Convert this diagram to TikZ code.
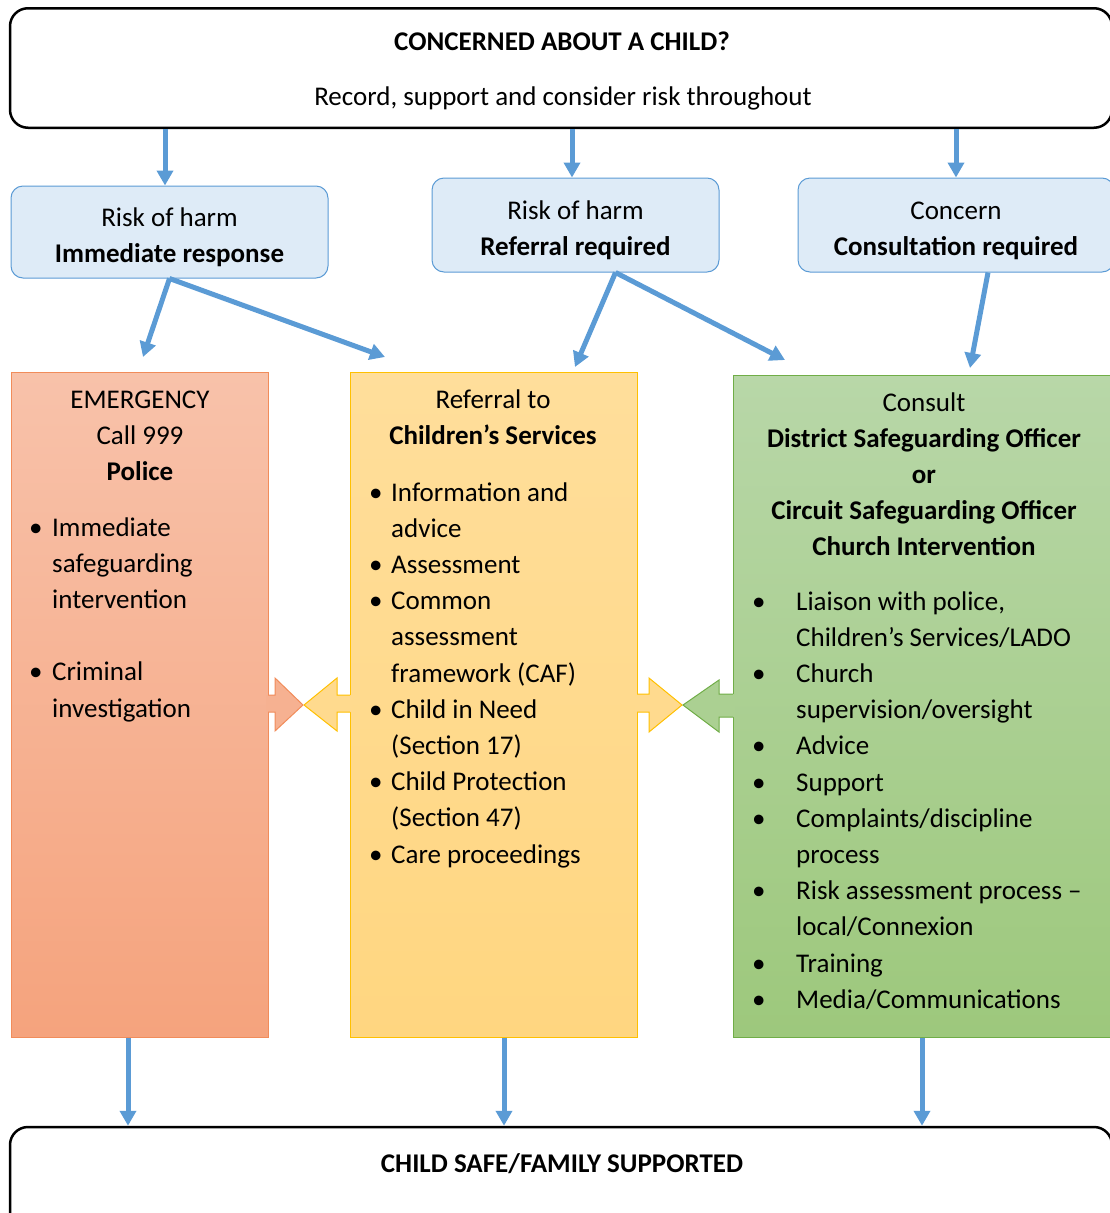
\documentclass[tikz,border=0pt]{standalone}
\usepackage{fontspec}
\setmainfont{Carlito}
\usetikzlibrary{arrows.meta, positioning, calc}
\definecolor{arrowblue}{RGB}{91, 155, 213}
\definecolor{stepfill}{RGB}{222, 235, 247}
\definecolor{orangetop}{RGB}{248, 194, 170}
\definecolor{orangebot}{RGB}{245, 163, 125}
\definecolor{orangeline}{RGB}{241, 140, 90}
\definecolor{yellowtop}{RGB}{255, 222, 155}
\definecolor{yellowbot}{RGB}{255, 214, 128}
\definecolor{yellowline}{RGB}{255, 192, 0}
\definecolor{greentop}{RGB}{184, 215, 168}
\definecolor{greenbot}{RGB}{157, 200, 124}
\definecolor{greenline}{RGB}{112, 173, 71}
\newcommand{\bodyfont}{\fontsize{27}{36.2}\selectfont}
\newcommand{\bul}[1]{\makebox[#1][l]{\textbullet}}
\newcommand{\lift}{\rule{0pt}{29pt}}

\begin{document}
\begin{tikzpicture}[x=1pt, y=-1pt,
  every node/.style={font=\bodyfont, inner sep=0pt},
  flow/.style={-{Triangle[width=16pt,length=15pt]}, line width=5pt, arrowblue},
  outerbox/.style={draw=black, line width=2.5pt, rounded corners=18pt},
  stepbox/.style={draw=arrowblue, fill=stepfill, line width=1pt, rounded corners=12pt, align=center},
  column/.style={line width=1pt}]
\useasboundingbox (0,0) rectangle (1110,1213);
% Top question
\node[outerbox, minimum width=1102pt, minimum height=119.5pt] (concern) at (561,68) {};
\node[anchor=base] (title) at (562,50) {\textbf{CONCERNED ABOUT A CHILD?}};
\node[anchor=base] (record) at (563,105) {Record, support and consider risk throughout};
% Three routes
\node[stepbox, minimum width=317pt, minimum height=92pt] (harmnow) at (169.5,232) {\lift Risk of harm\\\textbf{Immediate response}};
\node[stepbox, minimum width=287pt, minimum height=94pt] (harmref) at (575.5,225) {\lift Risk of harm\\\textbf{Referral required}};
\node[stepbox, minimum width=316pt, minimum height=94pt] (concernc) at (956,225) {\lift Concern\\\textbf{Consultation required}};
\draw[flow] ([xshift=-4.5pt]harmnow.north |- concern.south) -- ([xshift=-4.5pt]harmnow.north);
\draw[flow] ([xshift=-3.5pt]harmref.north |- concern.south) -- ([xshift=-3.5pt]harmref.north);
\draw[flow] (concernc.north |- concern.south) -- (concernc.north);
% Columns
\node[column, draw=orangeline, top color=orangetop, bottom color=orangebot, minimum width=257pt, minimum height=665pt] (police) at (139.5,704.5) {};
\node[column, draw=yellowline, top color=yellowtop, bottom color=yellowbot, minimum width=287pt, minimum height=665pt] (services) at (493.5,704.5) {};
\node[column, draw=greenline, top color=greentop, bottom color=greenbot, minimum width=381pt, minimum height=662pt] (consult) at (923.5,706) {};
% Diagonal arrows
\coordinate (p1) at (143,357);
\coordinate (s1) at (385,357);
\coordinate (s2) at (575,367);
\coordinate (c1) at (785,360);
\coordinate (c2) at (970,368);
\draw[flow] (harmnow.south) -- (p1);
\draw[flow] (harmnow.south) -- (s1);
\draw[flow] ([xshift=40pt]harmref.south) -- (s2);
\draw[flow] ([xshift=40pt]harmref.south) -- (c1);
\draw[flow] ([xshift=32pt]concernc.south) -- (c2);
% Two-way arrows
\fill[orangetop!45!orangebot] (266,695) -- (275,695) -- (275,678) -- (303,705) -- (275,731) -- (275,712) -- (266,712) -- cycle;
\draw[orangeline, line width=1pt] (268,695) -- (275,695) -- (275,678) -- (303,705) -- (275,731) -- (275,712) -- (268,712);
\fill[yellowtop!50!yellowbot] (352,695) -- (337,695) -- (337,678) -- (304,705) -- (337,731) -- (337,712) -- (352,712) -- cycle;
\draw[yellowline, line width=1pt] (350,695) -- (337,695) -- (337,678) -- (304,705) -- (337,731) -- (337,712) -- (350,712);
\fill[yellowtop!50!yellowbot] (635,694) -- (649,694) -- (649,678) -- (682,705) -- (649,732) -- (649,712) -- (635,712) -- cycle;
\draw[yellowline, line width=1pt] (637,694) -- (649,694) -- (649,678) -- (682,705) -- (649,732) -- (649,712) -- (637,712);
\fill[greentop!50!greenbot] (735,694) -- (719,694) -- (719,680) -- (683,705) -- (719,732) -- (719,717) -- (735,717) -- cycle;
\draw[greenline, line width=1pt] (733,694) -- (719,694) -- (719,680) -- (683,705) -- (719,732) -- (719,717) -- (733,717);
% Column texts
\node[anchor=base] (policehead) at (140,408) {\begin{tabular}[t]{@{}c@{}}EMERGENCY\\Call 999\\\textbf{Police}\end{tabular}};
\node[anchor=base west] (policelist) at (29,536) {\begin{tabular}[t]{@{}l@{}l@{}}
\bul{23pt} & Immediate\\ & safeguarding\\ & intervention\\ & \\
\bul{23pt} & Criminal\\ & investigation
\end{tabular}};
\node[anchor=base] (serviceshead) at (493,408) {\begin{tabular}[t]{@{}c@{}}Referral to\\\textbf{Children’s Services}\end{tabular}};
\node[anchor=base west] (serviceslist) at (369,501) {\begin{tabular}[t]{@{}l@{}l@{}}
\bul{22pt} & Information and\\ & advice\\
\bul{22pt} & Assessment\\
\bul{22pt} & Common\\ & assessment\\ & framework (CAF)\\
\bul{22pt} & Child in Need\\ & (Section 17)\\
\bul{22pt} & Child Protection\\ & (Section 47)\\
\bul{22pt} & Care proceedings
\end{tabular}};
\node[anchor=base] (consulthead) at (924,411) {\begin{tabular}[t]{@{}c@{}}Consult\\\textbf{District Safeguarding Officer}\\\textbf{or}\\\textbf{Circuit Safeguarding Officer}\\\textbf{Church Intervention}\end{tabular}};
\node[anchor=base west] (consultlist) at (752,610) {\begin{tabular}[t]{@{}l@{}l@{}}
\bul{44pt} & Liaison with police,\\ & Children’s Services/LADO\\
\bul{44pt} & Church\\ & supervision/oversight\\
\bul{44pt} & Advice\\
\bul{44pt} & Support\\
\bul{44pt} & Complaints/discipline\\ & process\\
\bul{44pt} & Risk assessment process –\\ & local/Connexion\\
\bul{44pt} & Training\\
\bul{44pt} & Media/Communications
\end{tabular}};
% Outcome
\node[outerbox, minimum width=1102pt, minimum height=120pt] (safe) at (561,1187) {};
\node[anchor=base] (safetext) at (562,1172) {\textbf{CHILD SAFE/FAMILY SUPPORTED}};
\draw[flow] ([xshift=-11.5pt]police.south) -- ([xshift=-11.5pt]police.south |- safe.north);
\draw[flow] ([xshift=10.5pt]services.south) -- ([xshift=10.5pt]services.south |- safe.north);
\draw[flow] ([xshift=-1.5pt]consult.south) -- ([xshift=-1.5pt]consult.south |- safe.north);
\end{tikzpicture}
\end{document}
